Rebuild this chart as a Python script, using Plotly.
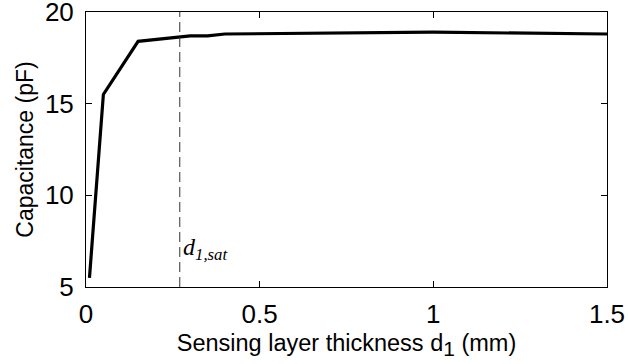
import plotly.graph_objects as go

thickness = [0.01, 0.05, 0.15, 0.3, 0.35, 0.4, 1.0, 1.5]
capacitance = [5.5, 15.5, 18.4, 18.7, 18.7, 18.8, 18.9, 18.8]
d_sat = 0.27
x_ticks = [0, 0.5, 1, 1.5]
x_tick_text = ["0", "0.5", "1", "1.5"]
y_ticks = [5, 10, 15, 20]

font = "Liberation Sans, Arial, sans-serif"

fig = go.Figure()
fig.add_trace(go.Scatter(x=thickness, y=capacitance, mode="lines",
                         line=dict(color="black", width=3.2), showlegend=False))
fig.add_trace(go.Scatter(x=[d_sat, d_sat], y=[5, 20], mode="lines",
                         line=dict(color="#333333", width=1, dash="10px,5px"),
                         showlegend=False))

fig.add_annotation(x=d_sat, y=5, xref="x", yref="y", xanchor="left", yanchor="bottom",
                   xshift=1, yshift=21, showarrow=False,
                   text="<i>d</i><sub><i>1,sat</i></sub>",
                   font=dict(family="Liberation Serif, Times New Roman, serif", size=24, color="black"))

axis_common = dict(showline=True, linecolor="black", linewidth=1, mirror="ticks",
                   ticks="inside", ticklen=6, tickcolor="black", tickwidth=1,
                   showgrid=False, zeroline=False, ticklabeloverflow="allow",
                   automargin=False,
                   tickfont=dict(family=font, size=26, color="black"))

fig.update_xaxes(range=[0, 1.5], tickvals=x_ticks, ticktext=x_tick_text,
                 title=dict(text="Sensing layer thickness d<sub><span style='font-size:21px'>1</span></sub> (mm)",
                            font=dict(family=font, size=23.5, color="black"), standoff=6),
                 ticklabelstandoff=4,
                 **axis_common)
fig.update_yaxes(range=[5, 20], tickvals=y_ticks,
                 title=dict(text="Capacitance (pF)",
                            font=dict(family=font, size=23, color="black"), standoff=4),
                 ticklabelstandoff=6,
                 **axis_common)

fig.update_layout(width=628, height=364, margin=dict(l=86, r=21, t=12, b=77),
                  plot_bgcolor="white", paper_bgcolor="white")

fig.write_html("out.html")
